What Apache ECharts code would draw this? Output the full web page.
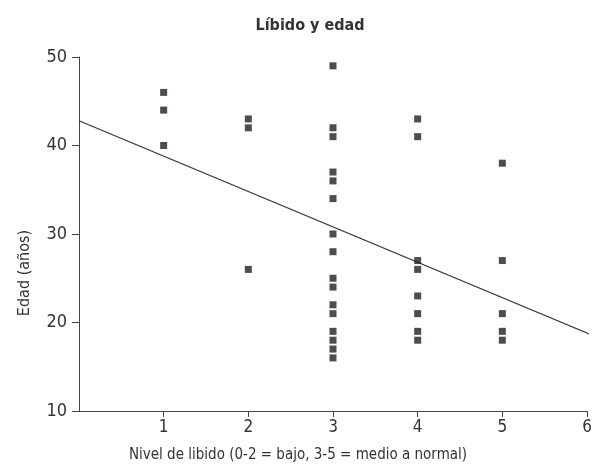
<!DOCTYPE html>
<html>
<head>
<meta charset="utf-8">
<script src="https://cdn.jsdelivr.net/npm/echarts@6/dist/echarts.min.js"></script>
<style>
  html, body { margin: 0; padding: 0; background: #fff; }
  #main { width: 595px; height: 471px; }
</style>
</head>
<body>
<div id="main"></div>
<script>
// nivel de libido (x) y edad (y)
const nivel1 = [46, 44, 40];
const nivel2 = [43, 42, 26];
const nivel3 = [49, 42, 41, 37, 36, 34, 30, 28, 25, 24, 22, 21, 19, 18, 17, 16];
const nivel4 = [43, 41, 27, 26, 23, 21, 19, 18];
const nivel5 = [38, 27, 21, 19, 18];
const edades = [nivel1, nivel2, nivel3, nivel4, nivel5];

// recta de regresion: edad = a + b * nivel
const recta = { a: 42.8, b: -4.0 };
const rectaX = [0, 6.05];

const xTicks = [1, 2, 3, 4, 5, 6];
const yTicks = [10, 20, 30, 40, 50];

const font = "'DejaVu Sans Condensed', 'Liberation Sans Narrow', 'Liberation Sans', sans-serif";

const puntos = [];
edades.forEach(function (lista, i) {
  lista.forEach(function (e) {
    puntos.push([i + 1, e]);
  });
});

const linea = rectaX.map(function (x) {
  return [x, recta.a + recta.b * x];
});

const chart = echarts.init(document.getElementById('main'), null, { renderer: 'canvas' });

const option = {
  animation: false,
  backgroundColor: '#fff',
  title: {
    text: 'Líbido y edad',
    left: 305,
    textAlign: 'center',
    top: 13,
    textStyle: {
      fontFamily: font,
      fontSize: 16,
      fontWeight: 'bold',
      color: '#333'
    }
  },
  grid: {
    left: 79,
    right: 8,
    top: 57,
    bottom: 60,
    containLabel: false
  },
  xAxis: {
    type: 'value',
    min: 0,
    max: 6,
    interval: 1,
    name: 'Nivel de libido (0-2 = bajo, 3-5 = medio a normal)',
    nameLocation: 'middle',
    nameGap: 37,
    nameTextStyle: {
      fontFamily: font,
      fontSize: 15,
      color: '#333',
      padding: [0, 70, 0, 0]
    },
    splitLine: { show: false },
    axisLine: { onZero: false, lineStyle: { color: '#444', width: 1 } },
    axisTick: { show: true, length: 6, customValues: xTicks, lineStyle: { color: '#444' } },
    axisLabel: {
      fontFamily: font,
      fontSize: 17,
      color: '#333',
      margin: 8,
      customValues: xTicks
    }
  },
  yAxis: {
    type: 'value',
    min: 10,
    max: 50,
    interval: 10,
    name: 'Edad (años)',
    nameLocation: 'middle',
    nameGap: 46,
    nameTextStyle: {
      fontFamily: font,
      fontSize: 16,
      color: '#333',
      padding: [0, 78, 0, 0]
    },
    splitLine: { show: false },
    axisLine: { show: true, lineStyle: { color: '#444', width: 1 } },
    axisTick: { show: true, length: 7, customValues: yTicks, lineStyle: { color: '#444' } },
    axisLabel: {
      fontFamily: font,
      fontSize: 18,
      color: '#333',
      margin: 12,
      customValues: yTicks
    }
  },
  series: [
    {
      type: 'line',
      data: linea,
      symbol: 'none',
      lineStyle: { color: '#333', width: 1.2 },
      z: 1
    },
    {
      type: 'scatter',
      data: puntos,
      symbol: 'rect',
      symbolSize: 7,
      itemStyle: { color: '#231f20' },
      z: 2
    }
  ]
};

chart.setOption(option);
</script>
</body>
</html>
